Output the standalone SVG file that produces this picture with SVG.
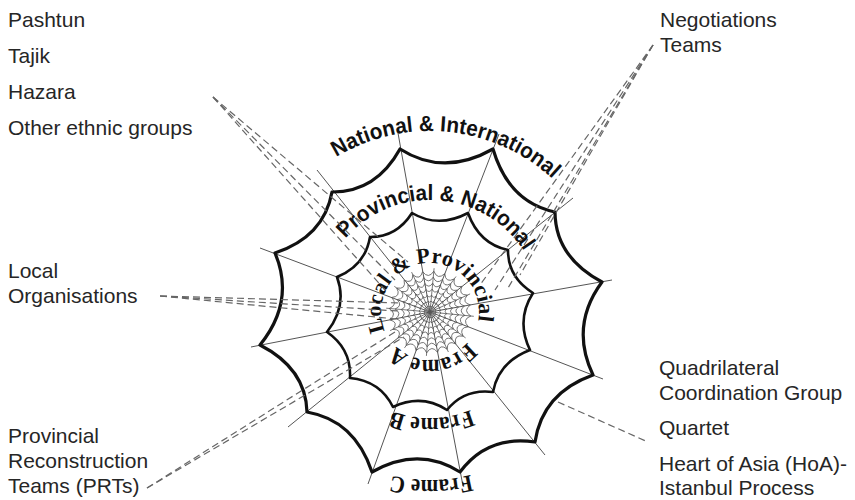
<svg xmlns="http://www.w3.org/2000/svg" width="855" height="500" viewBox="0 0 855 500">
<style>
.lbl{font-family:"Liberation Sans",Arial,sans-serif;font-size:21px;fill:#262626}
.arcs{font-family:"Liberation Sans",Arial,sans-serif;font-weight:bold;font-size:22px;fill:#111}
.arcr{font-family:"Liberation Serif","Times New Roman",serif;font-weight:bold;font-size:24px;fill:#111}
.spoke{stroke:#555;stroke-width:1;fill:none}
.ring{fill:none;stroke:#111;stroke-linejoin:round}
.dense{fill:none;stroke:#555}
.dash{stroke:#666;stroke-width:1.2;stroke-dasharray:7 4;fill:none}
</style>
<defs>
<path id="dr" d="M-63.2,-77.5 Q-42,-67.3 -41.9,-90.8 Q-24,-75.7 -18.1,-98.4 Q-3.5,-79.2 9.3,-99.6 Q18.1,-77.2 36,-93.3 Q38,-69.6 59.1,-80.7 Q54.8,-57.3 78,-62.5 Q67.6,-41.5 91.1,-41.2 Q75.8,-23.4 98.5,-17.2 Q79.2,-3 99.5,9.8 Q77.1,18.3 93.3,36 Q69.6,38 80.8,58.9 Q57.4,54.7 62.8,77.8 Q41.9,67.4 41.9,90.8 Q24.1,75.6 18.4,98.3 Q4.1,79.2 -8.1,99.7 Q-16.8,77.5 -34,94 Q-36.8,70.2 -57.9,81.5 Q-54.2,57.8 -77.6,63.1 Q-67.3,42.2 -90.6,42.3 Q-75.5,24.6 -98.2,19.1 Q-79.1,4.2 -99.6,-8.5 Q-77.2,-17.6 -93.5,-35.5 Q-69.8,-37.6 -81.1,-58.5 Q-57.7,-54.4 -63.2,-77.5 Z"/>
<path id="p1" d="M336.2,157.2 A181,181 0 0 1 552.5,178.8"/>
<path id="p2" d="M345.5,238.5 A112,112 0 0 1 523.9,251"/>
<path id="p3" d="M384.9,331.1 A49,49 0 1 1 477.9,322.2"/>
<path id="p4" d="M467.3,342.2 A48,48 0 0 1 396.1,345.9"/>
<path id="p5" d="M470.6,409.9 A106,106 0 0 1 392.9,411.3"/>
<path id="p6" d="M470.6,475 A168,168 0 0 1 392.2,475.7"/>
</defs>

<g id="web">
  <g id="spokes" class="spoke">
    <line x1="430" y1="312" x2="317" y2="170"/>
    <line x1="430" y1="312" x2="398" y2="133"/>
    <line x1="430" y1="312" x2="499" y2="134"/>
    <line x1="430" y1="312" x2="573" y2="198"/>
    <line x1="430" y1="312" x2="612" y2="280"/>
    <line x1="430" y1="312" x2="603" y2="379"/>
    <line x1="430" y1="312" x2="545" y2="455"/>
    <line x1="430" y1="312" x2="463" y2="486"/>
    <line x1="430" y1="312" x2="368" y2="484"/>
    <line x1="430" y1="312" x2="288" y2="427"/>
    <line x1="430" y1="312" x2="251" y2="347"/>
    <line x1="430" y1="312" x2="260" y2="248"/>
  </g>
  <g id="inner-spokes" class="spoke" style="stroke-width:0.8">
    <line x1="430" y1="312" x2="411.6" y2="272.1"/>
    <line x1="430" y1="312" x2="434.1" y2="268.2"/>
    <line x1="430" y1="312" x2="456" y2="276.5"/>
    <line x1="430" y1="312" x2="470.1" y2="293.9"/>
    <line x1="430" y1="312" x2="473.8" y2="316.3"/>
    <line x1="430" y1="312" x2="465.6" y2="337.9"/>
    <line x1="430" y1="312" x2="448.4" y2="352"/>
    <line x1="430" y1="312" x2="426.4" y2="355.9"/>
    <line x1="430" y1="312" x2="404.5" y2="347.9"/>
    <line x1="430" y1="312" x2="390.1" y2="330.6"/>
    <line x1="430" y1="312" x2="386.2" y2="308.2"/>
    <line x1="430" y1="312" x2="394.3" y2="286.3"/>
  </g>
  <g id="dense-rings" class="dense">
    <use href="#dr" transform="translate(430 312) scale(0.06)" stroke-width="13.3"/>
    <use href="#dr" transform="translate(430 312) scale(0.11)" stroke-width="7.3"/>
    <use href="#dr" transform="translate(430 312) scale(0.17)" stroke-width="4.7"/>
    <use href="#dr" transform="translate(430 312) scale(0.23)" stroke-width="3.5"/>
    <use href="#dr" transform="translate(430 312) scale(0.29)" stroke-width="2.8"/>
    <use href="#dr" transform="translate(430 312) scale(0.35)" stroke-width="2.3"/>
    <use href="#dr" transform="translate(430 312) scale(0.41)" stroke-width="2"/>
  </g>
  <path id="middle-ring" class="ring" stroke-width="2.6" d="M370,237 Q396.5,237.3 412,213 Q438.4,228.6 468,213 Q479.1,243.9 508,250 Q507.8,277.2 533,293 Q515.6,320 530,350 Q498.8,361.8 493,392 Q464.3,388.4 447,410 Q421.6,393.5 393,407 Q380,380.8 350,378 Q351.5,348.9 327,332 Q347.7,305.7 337,277 Q365.3,265.5 370,237 Z"/>
  <path id="outer-ring" class="ring" stroke-width="3.2" d="M332,192 Q375.9,192.4 400,149 Q443.7,176.9 493,149 Q508.6,202.1 555,212 Q555.3,257.1 602,282 Q569.6,325.8 593,375 Q542.4,393 535,442 Q487.3,435 460,472 Q418.3,445.7 372,472 Q354.6,420.2 307,412 Q305.8,368.4 260,345 Q295.4,301.2 275,253 Q323.9,236.9 332,192 Z"/>
</g>

<g id="ring-labels">
  <text class="arcs"><textPath href="#p1" textLength="233" lengthAdjust="spacingAndGlyphs">National &amp; International</textPath></text>
  <text class="arcs"><textPath href="#p2" textLength="207" lengthAdjust="spacingAndGlyphs">Provincial &amp; National</textPath></text>
  <text class="arcr" style="font-size:22px"><textPath href="#p3" textLength="182">Local &amp; Provincial</textPath></text>
  <text class="arcr"><textPath href="#p4" textLength="80" lengthAdjust="spacingAndGlyphs">Frame A</textPath></text>
  <text class="arcr"><textPath href="#p5" textLength="80" lengthAdjust="spacingAndGlyphs">Frame B</textPath></text>
  <text class="arcr"><textPath href="#p6" textLength="80" lengthAdjust="spacingAndGlyphs">Frame C</textPath></text>
</g>

<g id="connectors" class="dash">
  <line x1="213" y1="97" x2="408" y2="262"/>
  <line x1="213" y1="97" x2="395" y2="280"/>
  <line x1="213" y1="97" x2="385" y2="290"/>
  <line x1="653" y1="45" x2="480" y2="285"/>
  <line x1="653" y1="45" x2="495" y2="290"/>
  <line x1="653" y1="45" x2="508" y2="288"/>
  <line x1="653" y1="45" x2="520" y2="275"/>
  <line x1="160" y1="296" x2="400" y2="303"/>
  <line x1="160" y1="296" x2="398" y2="311"/>
  <line x1="160" y1="296" x2="396" y2="319"/>
  <line x1="147" y1="488" x2="398" y2="330"/>
  <line x1="147" y1="488" x2="404" y2="337"/>
  <line x1="558" y1="402" x2="648" y2="442"/>
</g>

<g id="ethnic-groups" class="lbl">
  <text x="8" y="27">Pashtun</text>
  <text x="8" y="63">Tajik</text>
  <text x="8" y="99">Hazara</text>
  <text x="8" y="135">Other ethnic groups</text>
</g>
<g id="negotiations-teams" class="lbl">
  <text x="660" y="27">Negotiations</text>
  <text x="660" y="52">Teams</text>
</g>
<g id="local-organisations" class="lbl">
  <text x="8" y="278">Local</text>
  <text x="8" y="303">Organisations</text>
</g>
<g id="prts" class="lbl">
  <text x="8" y="443">Provincial</text>
  <text x="8" y="468">Reconstruction</text>
  <text x="8" y="493">Teams (PRTs)</text>
</g>
<g id="international-groups" class="lbl">
  <text x="659" y="375">Quadrilateral</text>
  <text x="659" y="400">Coordination Group</text>
  <text x="659" y="435">Quartet</text>
  <text x="659" y="471">Heart of Asia (HoA)-</text>
  <text x="659" y="495">Istanbul Process</text>
</g>
</svg>
